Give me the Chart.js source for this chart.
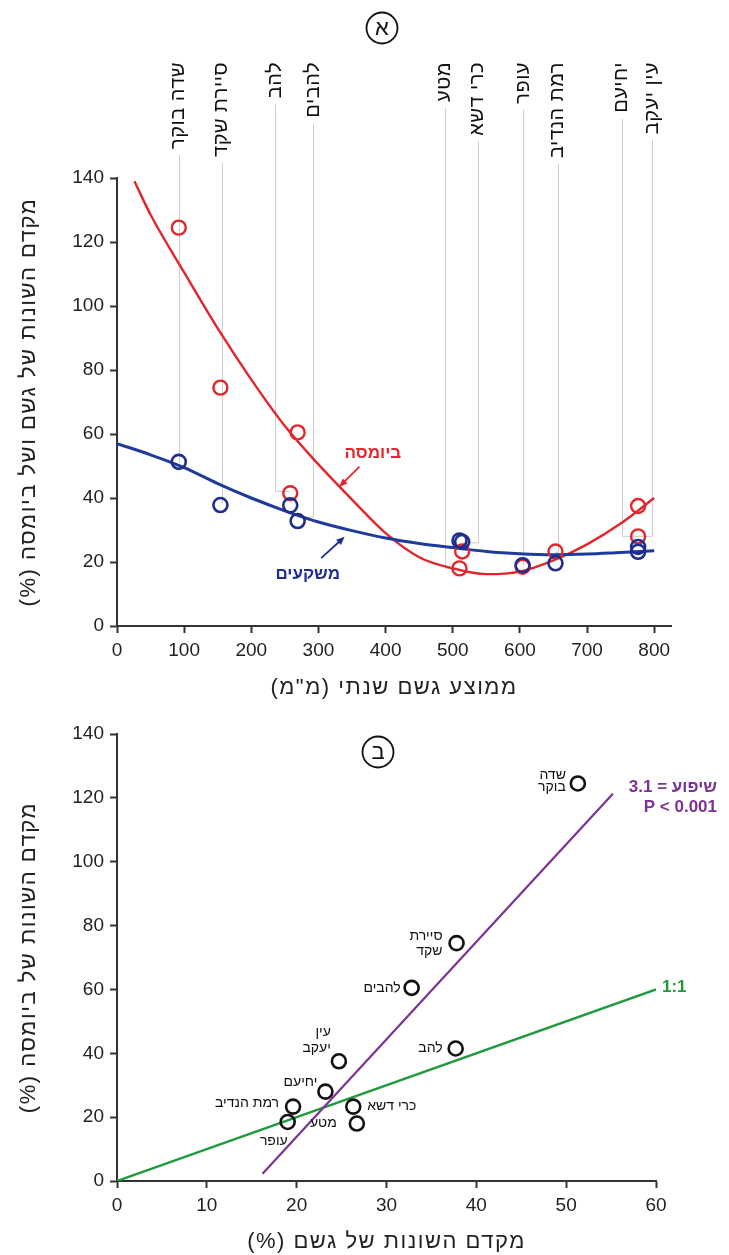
<!DOCTYPE html>
<html>
<head>
<meta charset="utf-8">
<script src="https://cdn.jsdelivr.net/npm/chart.js@4.4.1/dist/chart.umd.min.js"></script>
<style>
  html, body { margin: 0; padding: 0; background: #fff; }
  #wrap { position: relative; width: 729px; height: 1255px; }
  canvas { position: absolute; left: 0; }
  #rainChart { top: 0; }
  #cvChart { top: 700px; }
</style>
</head>
<body>
<div id="wrap">
  <canvas id="rainChart" dir="rtl" width="729" height="700"></canvas>
  <canvas id="cvChart" dir="rtl" width="729" height="555"></canvas>
</div>
<script>
// stations, ordered from dry to wet
const sites = ['שדה בוקר', 'סיירת שקד', 'להב', 'להבים', 'מטע', 'כרי דשא', 'עופר', 'רמת הנדיב', 'יחיעם', 'עין יעקב'];
const rainfall = [92, 154, 258, 269, 510, 514, 604, 653, 776, 776];          // mm / year
const rainCV = [51.3, 37.8, 37.7, 32.8, 26.7, 26.3, 19.0, 19.6, 23.2, 24.7];    // %
const biomassCV = [124.5, 74.5, 41.5, 60.5, 18.0, 23.3, 18.5, 23.3, 28.0, 37.5]; // %

// fitted curves
const fitX = [26, 50, 100, 150, 200, 250, 300, 350, 400, 450, 500, 550, 600, 650, 700, 750, 800];
const biomassFit = [139, 128.5, 110.5, 93, 77, 62.5, 50.5, 39.5, 29, 21.5, 18, 16.2, 17, 20.5, 25.5, 32, 40];
const rainFitX = [0, 50, 100, 150, 200, 250, 300, 350, 400, 450, 500, 550, 600, 650, 700, 750, 800];
const rainFit = [57, 53.5, 49.5, 44.5, 40, 36, 32.5, 29.8, 27.5, 25.8, 24.5, 23.3, 22.6, 22.3, 22.5, 23, 23.5];

// where the station leader lines stand (mm) and where they stop (%)
const leaderX = [92, 156, 236, 292, 488, 537, 605, 656, 752, 797];
const leaderEnd = [51, 38.5, 42, 34, 18, 26, 19, 23, 28, 28];

// regression of biomass CV on rain CV, and the 1:1 line
const slopeX = [16.2, 55.2];
const slopeY = [2.3, 121.3];
const oneX = [0, 60];
const oneY = [0, 60];

const rainTicks = [0, 100, 200, 300, 400, 500, 600, 700, 800];

const FONT = "'Liberation Sans', Arial, sans-serif";
const RED = '#e2262b';
const BLUE = '#1f2d8f';
const PURPLE = '#7b3294';
const GREEN = '#1f9a3c';
const INK = '#222';

Chart.defaults.font.family = FONT;
Chart.defaults.color = INK;

const pts = (xs, ys) => xs.map((v, i) => ({ x: v, y: ys[i] }));

function axis(min, max, step, fit) {
  return {
    type: 'linear', min, max,
    ticks: { stepSize: step, font: { size: 19 }, color: INK, padding: 6 },
    grid: { drawOnChartArea: false, tickLength: 7, tickColor: '#333', tickWidth: 2 },
    border: { color: '#333', width: 2 },
    afterFit: fit
  };
}

function axisTitle(ctx, text, x, y, vertical) {
  ctx.save();
  ctx.font = '22px ' + FONT;
  ctx.letterSpacing = '1.5px';
  ctx.fillStyle = INK;
  ctx.textAlign = 'center';
  ctx.textBaseline = 'middle';
  ctx.translate(x, y);
  if (vertical) ctx.rotate(-Math.PI / 2);
  ctx.fillText(text, 0, 0);
  ctx.restore();
}

function arrow(ctx, x1, y1, x2, y2, color) {
  const a = Math.atan2(y2 - y1, x2 - x1), h = 9;
  ctx.strokeStyle = color; ctx.fillStyle = color; ctx.lineWidth = 1.8;
  ctx.beginPath();
  ctx.moveTo(x1, y1);
  ctx.lineTo(x2 - h * 0.7 * Math.cos(a), y2 - h * 0.7 * Math.sin(a));
  ctx.stroke();
  ctx.beginPath();
  ctx.moveTo(x2, y2);
  ctx.lineTo(x2 - h * Math.cos(a - 0.4), y2 - h * Math.sin(a - 0.4));
  ctx.lineTo(x2 - h * Math.cos(a + 0.4), y2 - h * Math.sin(a + 0.4));
  ctx.closePath();
  ctx.fill();
}

function panelMark(ctx, cx, cy, letter) {
  ctx.save();
  ctx.strokeStyle = '#111'; ctx.lineWidth = 1.8;
  ctx.beginPath(); ctx.arc(cx, cy, 15.5, 0, Math.PI * 2); ctx.stroke();
  ctx.fillStyle = '#111'; ctx.font = '22px ' + FONT;
  ctx.textAlign = 'center'; ctx.textBaseline = 'middle';
  ctx.fillText(letter, cx, cy + 1);
  ctx.restore();
}

// ---------- panel א ----------
const LABEL_TOP = 62;
const siteFont = '20px ' + FONT;

const rainNotes = {
  id: 'rainNotes',
  beforeDatasetsDraw(chart) {
    const { ctx, scales: { x, y } } = chart;
    ctx.save();
    ctx.font = siteFont;
    ctx.letterSpacing = '0.5px';
    ctx.strokeStyle = '#cdcdcd';
    ctx.lineWidth = 1;
    sites.forEach((name, i) => {
      const lx = Math.round(x.getPixelForValue(leaderX[i])) + 0.5;
      const top = LABEL_TOP + ctx.measureText(name).width + 6;
      const end = y.getPixelForValue(leaderEnd[i]);
      ctx.beginPath();
      ctx.moveTo(lx, top);
      ctx.lineTo(lx, end);
      ctx.lineTo(x.getPixelForValue(rainfall[i]), end);
      ctx.stroke();
    });
    ctx.restore();
  },
  afterDraw(chart) {
    const { ctx, chartArea: a, scales: { x, y } } = chart;
    ctx.save();
    ctx.font = siteFont;
    ctx.letterSpacing = '0.5px';
    ctx.fillStyle = '#111';
    ctx.textAlign = 'right';
    ctx.textBaseline = 'middle';
    sites.forEach((name, i) => {
      ctx.save();
      ctx.translate(x.getPixelForValue(leaderX[i]), LABEL_TOP);
      ctx.rotate(-Math.PI / 2);
      ctx.fillText(name, 0, 0);
      ctx.restore();
    });
    ctx.letterSpacing = '0px';

    ctx.font = 'bold 17px ' + FONT;
    ctx.textAlign = 'center';
    ctx.fillStyle = RED;
    ctx.fillText('ביומסה', x.getPixelForValue(381), y.getPixelForValue(54));
    arrow(ctx, x.getPixelForValue(361), y.getPixelForValue(49.8), x.getPixelForValue(331), y.getPixelForValue(43.5), RED);
    ctx.fillStyle = BLUE;
    ctx.fillText('משקעים', x.getPixelForValue(284), y.getPixelForValue(16));
    arrow(ctx, x.getPixelForValue(304), y.getPixelForValue(21.2), x.getPixelForValue(339), y.getPixelForValue(27.9), BLUE);
    ctx.restore();

    axisTitle(ctx, 'ממוצע גשם שנתי (מ"מ)', (a.left + a.right) / 2, 688, false);
    axisTitle(ctx, 'מקדם השונות של גשם ושל ביומסה (%)', 29, (a.top + a.bottom) / 2, true);
    panelMark(ctx, 382, 28, 'א');
  }
};

new Chart(document.getElementById('rainChart'), {
  type: 'scatter',
  data: {
    datasets: [
      {
        data: pts(rainfall, rainCV),
        pointRadius: 7, pointBorderWidth: 2.6,
        pointBorderColor: BLUE, pointBackgroundColor: 'rgba(0,0,0,0)'
      },
      {
        data: pts(rainfall, biomassCV),
        pointRadius: 7, pointBorderWidth: 2.4,
        pointBorderColor: RED, pointBackgroundColor: 'rgba(0,0,0,0)'
      },
      {
        type: 'line', data: pts(rainFitX, rainFit),
        borderColor: '#203a9a', borderWidth: 3, pointRadius: 0,
        cubicInterpolationMode: 'monotone', fill: false
      },
      {
        type: 'line', data: pts(fitX, biomassFit),
        borderColor: RED, borderWidth: 2.4, pointRadius: 0,
        cubicInterpolationMode: 'monotone', fill: false
      }
    ]
  },
  options: {
    responsive: false,
    animation: false,
    devicePixelRatio: 1,
    layout: { padding: { top: 178, right: 58, left: 0, bottom: 0 } },
    plugins: { legend: { display: false }, tooltip: { enabled: false } },
    scales: {
      x: Object.assign(axis(0, 825, 100, s => { s.height = 74; }), {
        afterBuildTicks: s => { s.ticks = rainTicks.map(v => ({ value: v })); }
      }),
      y: axis(0, 140, 20, s => { s.width = 117; })
    }
  },
  plugins: [rainNotes]
});

// ---------- panel ב ----------
// label placement next to each station (px from the marker)
const labelPlace = [
  { dx: -12, dy: [-8, 4], align: 'right' },
  { dx: -14, dy: [-7, 8], align: 'right' },
  { dx: -13, dy: [0], align: 'right' },
  { dx: -11, dy: [0], align: 'right' },
  { dx: -20, dy: [0], align: 'right' },
  { dx: 14, dy: [0], align: 'left' },
  { dx: 0, dy: [19], align: 'right' },
  { dx: -14, dy: [-3], align: 'right' },
  { dx: -8, dy: [-9], align: 'right' },
  { dx: -8, dy: [-29, -13], align: 'right' }
];

const cvNotes = {
  id: 'cvNotes',
  afterDraw(chart) {
    const { ctx, chartArea: a, scales: { x, y } } = chart;
    ctx.save();
    ctx.font = '14px ' + FONT;
    ctx.fillStyle = '#111';
    ctx.textBaseline = 'middle';
    sites.forEach((name, i) => {
      const p = labelPlace[i];
      const lines = p.dy.length > 1 ? name.split(' ') : [name];
      const px = x.getPixelForValue(rainCV[i]), py = y.getPixelForValue(biomassCV[i]);
      ctx.textAlign = p.align;
      lines.forEach((t, k) => ctx.fillText(t, px + p.dx, py + p.dy[k]));
    });

    ctx.font = 'bold 17px ' + FONT;
    ctx.textAlign = 'right';
    ctx.fillStyle = PURPLE;
    const ey = y.getPixelForValue(slopeY[1]);
    ctx.fillText('שיפוע = 3.1', 717, ey - 6);
    ctx.fillText('P < 0.001', 717, ey + 14);
    ctx.fillStyle = GREEN;
    ctx.textAlign = 'left';
    ctx.fillText('1:1', x.getPixelForValue(oneX[1]) + 6, y.getPixelForValue(oneY[1]) - 2);
    ctx.restore();

    axisTitle(ctx, 'מקדם השונות של גשם (%)', (a.left + a.right) / 2, 542, false);
    axisTitle(ctx, 'מקדם השונות של ביומסה (%)', 29, (a.top + a.bottom) / 2, true);
    panelMark(ctx, 378, 52, 'ב');
  }
};

new Chart(document.getElementById('cvChart'), {
  type: 'scatter',
  data: {
    datasets: [
      {
        data: pts(rainCV, biomassCV),
        pointRadius: 7, pointBorderWidth: 2.6,
        pointBorderColor: '#111', pointBackgroundColor: 'rgba(0,0,0,0)'
      },
      {
        type: 'line', data: pts(slopeX, slopeY),
        borderColor: PURPLE, borderWidth: 2.2, pointRadius: 0, fill: false
      },
      {
        type: 'line', data: pts(oneX, oneY),
        borderColor: GREEN, borderWidth: 2.4, pointRadius: 0, fill: false
      }
    ]
  },
  options: {
    responsive: false,
    animation: false,
    devicePixelRatio: 1,
    layout: { padding: { top: 34, right: 73, left: 0, bottom: 0 } },
    plugins: { legend: { display: false }, tooltip: { enabled: false } },
    scales: {
      x: axis(0, 60, 10, s => { s.height = 74; }),
      y: axis(0, 140, 20, s => { s.width = 117; })
    }
  },
  plugins: [cvNotes]
});
</script>
</body>
</html>
